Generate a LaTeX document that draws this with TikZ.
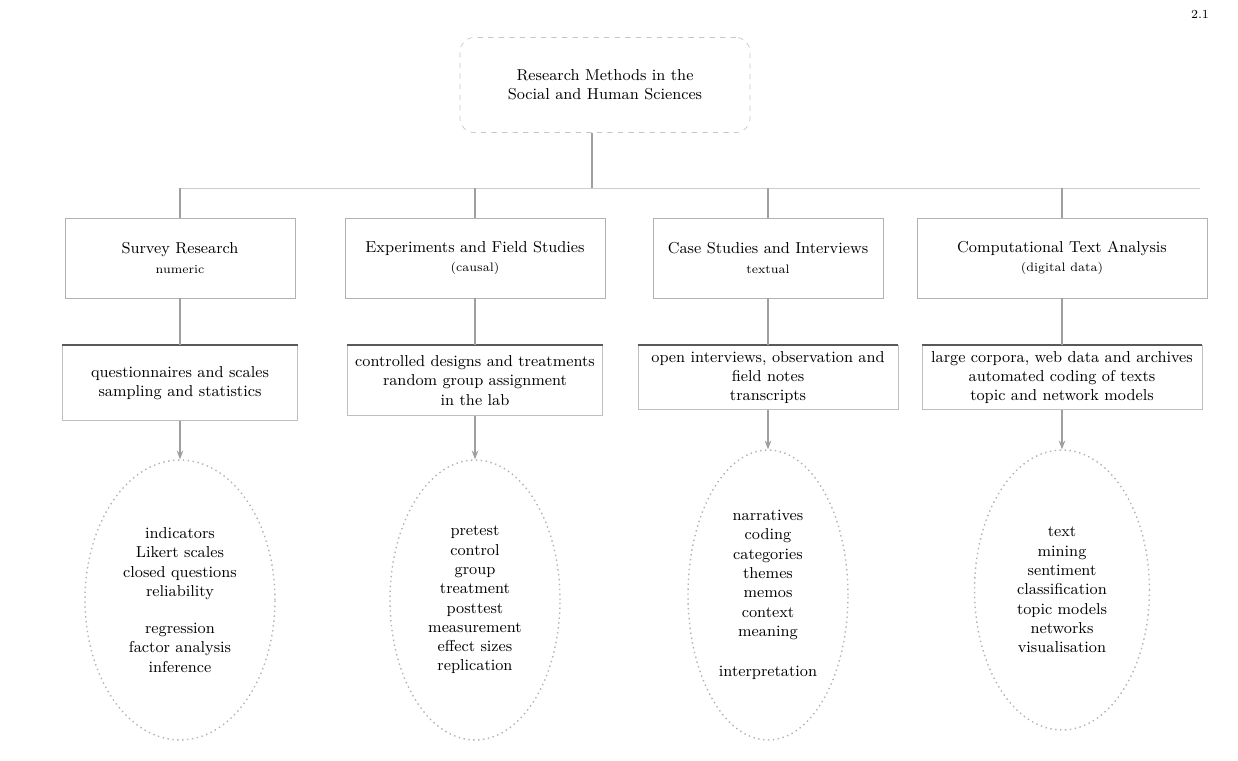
\documentclass[tikz,border=0pt]{standalone}
\usetikzlibrary{arrows.meta,shapes.geometric}

\begin{document}
\begin{tikzpicture}[x=0.02cm,y=-0.02cm,
    every node/.style={align=center, font=\small},
    topbox/.style={draw=gray!45, dashed, rounded corners=8pt, minimum width=5.8cm, minimum height=1.9cm},
    groupbox/.style={draw=gray!60, minimum height=1.6cm},
    notebox/.style={draw=gray!50, minimum height=1.4cm, anchor=north},
    listblob/.style={ellipse, draw=gray!60, dotted, thick, font=\small, inner sep=0pt},
    link/.style={draw=gray!75, thick},
    bus/.style={draw=gray!40}]
  \useasboundingbox (0,0) rectangle (1238,761);

  % root
  \node[topbox] (root) at (605,85) {Research Methods in the\\ Social and Human Sciences};
  \node[font=\scriptsize] (tag) at (1200,14) {2.1};

  % branches
  \node[groupbox, minimum width=4.6cm] (g1) at (180,258) {Survey Research\\ {\scriptsize numeric}};
  \node[groupbox, minimum width=5.2cm] (g2) at (475,258) {Experiments and Field Studies\\ {\scriptsize (causal)}};
  \node[groupbox, minimum width=4.6cm] (g3) at (768,258) {Case Studies and Interviews\\ {\scriptsize textual}};
  \node[groupbox, minimum width=5.8cm] (g4) at (1062,258) {Computational Text Analysis\\ {\scriptsize (digital data)}};

  % notes under each branch
  \node[notebox, minimum width=4.7cm, minimum height=1.5cm] (n1) at (180,345) {questionnaires and scales\\ sampling and statistics};
  \node[notebox, minimum width=5.1cm] (n2) at (475,345) {controlled designs and treatments\\ random group assignment\\ in the lab};
  \node[notebox, minimum width=5.2cm, minimum height=1.2cm] (n3) at (768,345) {open interviews, observation and\\ field notes\\ transcripts};
  \node[notebox, minimum width=5.6cm, minimum height=1.2cm] (n4) at (1062,345) {large corpora, web data and archives\\ automated coding of texts\\ topic and network models};
  \foreach \n in {n1,n2,n3,n4}
    \draw[very thick, gray!70!black] (\n.north west) -- (\n.north east);

  % lists
  \node[listblob, minimum width=3.8cm, minimum height=5.6cm] (e1) at (180,600)
    {indicators\\ Likert scales\\ closed questions\\ reliability\\[10pt] regression\\ factor analysis\\ inference};
  \node[listblob, minimum width=3.4cm, minimum height=5.6cm] (e2) at (475,600)
    {pretest\\ control\\ group\\ treatment\\ posttest\\ measurement\\ effect sizes\\ replication};
  \node[listblob, minimum width=3.2cm, minimum height=5.8cm] (e3) at (768,595)
    {narratives\\ coding\\ categories\\ themes\\ memos\\ context\\ meaning\\[12pt] interpretation};
  \node[listblob, minimum width=3.5cm, minimum height=5.6cm] (e4) at (1062,590)
    {text\\ mining\\ sentiment\\ classification\\ topic models\\ networks\\ visualisation};

  % connectors
  \coordinate (split) at (592,188);
  \coordinate (busl) at (g1.north |- split);
  \coordinate (busr) at (1200,188);
  \draw[link] (root.south -| split) -- (split);
  \draw[bus] (busl) -- (busr);
  \foreach \i in {1,...,4} {
    \draw[link] (g\i.north |- split) -- (g\i.north);
    \draw[link] (g\i.south) -- (n\i.north);
    \draw[link, -{Stealth[length=5pt]}] (n\i.south) -- (e\i.north);
  }
\end{tikzpicture}
\end{document}
